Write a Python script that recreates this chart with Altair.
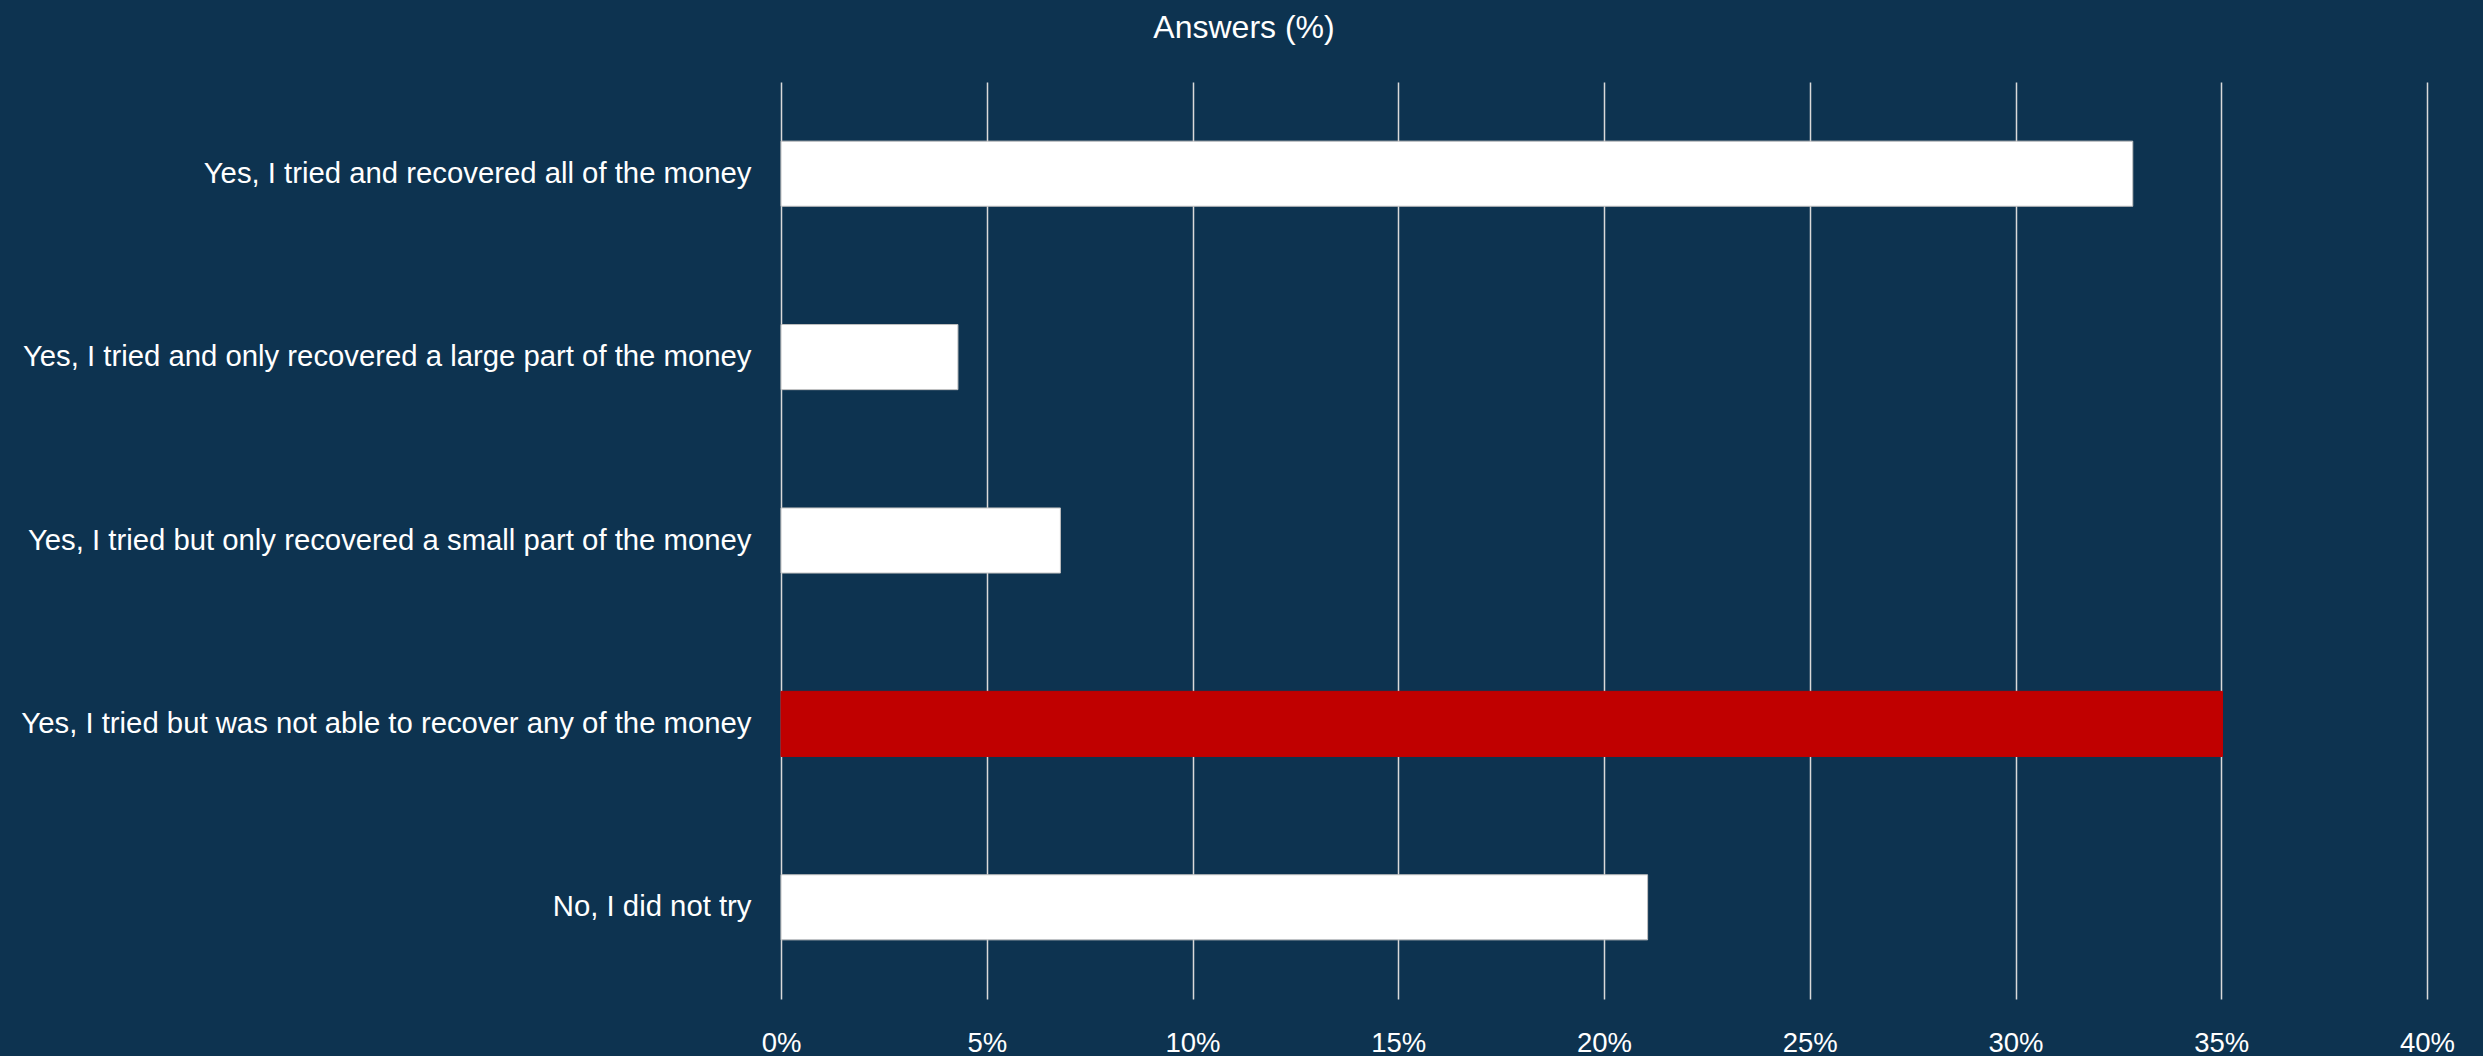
import altair as alt
import pandas as pd

categories = [
    "Yes, I tried and recovered all of the money",
    "Yes, I tried and only recovered a large part of the money",
    "Yes, I tried but only recovered a small part of the money",
    "Yes, I tried but was not able to recover any of the money",
    "No, I did not try",
]
values = [32.85, 4.30, 6.79, 35.03, 21.06]
bar_colors = ["#FFFFFF", "#FFFFFF", "#FFFFFF", "#C00000", "#FFFFFF"]
bar_strokes = ["#BFBFBF", "#BFBFBF", "#BFBFBF", "#C00000", "#BFBFBF"]
tick_values = [0, 5, 10, 15, 20, 25, 30, 35, 40]

df = pd.DataFrame({
    "answer": categories,
    "share": values,
    "fill": bar_colors,
    "edge": bar_strokes,
})

FONT = "Liberation Sans, Arial, sans-serif"
BG = "#0D3350"

chart = alt.Chart(df).mark_bar(strokeWidth=1).encode(
    y=alt.Y(
        "answer:N",
        sort=categories,
        title=None,
        scale=alt.Scale(paddingInner=0.645, paddingOuter=0.3225),
        axis=alt.Axis(
            ticks=False,
            domain=False,
            grid=False,
            labelPadding=30,
            labelLimit=1200,
            labelFont=FONT,
            labelFontSize=29.3,
            labelColor="#FFFFFF",
        ),
    ),
    x=alt.X(
        "share:Q",
        title=None,
        scale=alt.Scale(domain=[0, 40], nice=False),
        axis=alt.Axis(
            values=tick_values,
            labelExpr="datum.value + '%'",
            ticks=False,
            domain=False,
            grid=True,
            gridColor="#D9D9D9",
            gridWidth=1.5,
            labelPadding=52,
            labelBaseline="alphabetic",
            labelFont=FONT,
            labelFontSize=27.5,
            labelColor="#FFFFFF",
            labelFlush=False,
        ),
    ),
    color=alt.Color("fill:N", scale=None, legend=None),
    stroke=alt.Stroke("edge:N", scale=None, legend=None),
).properties(
    width=1646,
    height=917,
    title=alt.TitleParams(
        "Answers (%)",
        font=FONT,
        fontSize=32,
        fontWeight="normal",
        color="#FFFFFF",
        anchor="middle",
        frame="group",
        baseline="alphabetic",
        offset=12,
        dx=-360,
    ),
    autosize=alt.AutoSizeParams(type="none"),
    padding={"left": 781, "top": 82, "right": 56, "bottom": 57},
    background=BG,
).configure_view(stroke=None)

chart.save("out.html", embed_options={"renderer": "svg", "actions": False})
